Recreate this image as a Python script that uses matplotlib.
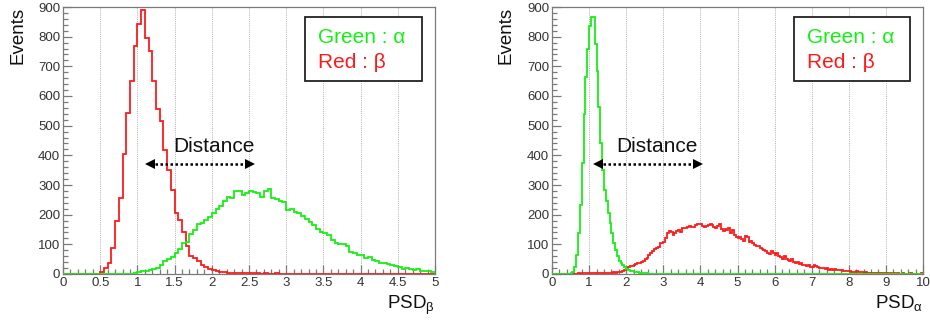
import numpy as np
import matplotlib
matplotlib.use("Agg")
import matplotlib.pyplot as plt
from matplotlib.ticker import MultipleLocator
from matplotlib.patches import Rectangle

plt.rcParams['font.family'] = ['Liberation Sans', 'DejaVu Sans']
plt.rcParams['mathtext.fontset'] = 'custom'
plt.rcParams['mathtext.rm'] = 'Liberation Sans'

# ---------------- data ----------------
# Left panel: PSD_beta, 0..5, bin width 0.05
left_range = (0.0, 5.0)
left_red_beta = [
    0, 0, 0, 0, 0, 0, 0, 0, 0, 0,
    8, 20, 36, 87, 178, 256, 403, 544, 650, 770,
    843, 890, 797, 753, 652, 556, 517, 418, 351, 283,
    207, 182, 140, 93, 62, 55, 44, 30, 22, 17,
    13, 9, 8, 7, 5, 4, 4, 3, 2, 2,
    3, 2, 2, 1, 2, 1, 1, 2, 1, 1,
    0, 1, 1, 0, 1, 0, 0, 1, 0, 0,
    0, 1, 0, 0, 0, 0, 1, 0, 0, 0,
    0, 0, 0, 0, 0, 0, 0, 0, 0, 0,
    0, 0, 0, 0, 0, 0, 0, 0, 0, 0,
]
left_green_alpha = [
    0, 0, 0, 0, 0, 0, 0, 0, 0, 0,
    0, 0, 0, 0, 0, 0, 0, 0, 1, 3,
    8, 10, 11, 13, 17, 21, 30, 45, 49, 56,
    70, 84, 106, 108, 135, 148, 167, 173, 182, 193,
    204, 218, 229, 247, 258, 255, 281, 280, 266, 274,
    281, 278, 272, 261, 281, 285, 255, 253, 247, 244,
    216, 218, 210, 204, 196, 184, 176, 165, 151, 143,
    137, 131, 115, 106, 101, 101, 96, 75, 72, 64,
    64, 53, 56, 47, 45, 38, 36, 33, 30, 27,
    22, 17, 19, 16, 13, 16, 11, 10, 11, 8,
]

# Right panel: PSD_alpha, 0..10, bin width 0.05
right_range = (0.0, 10.0)
right_green_alpha = [
    0, 0, 0, 0, 0, 0, 0, 0, 0, 0,
    2, 8, 25, 64, 137, 232, 373, 540, 665, 760,
    835, 866, 866, 776, 685, 563, 441, 351, 283, 245,
    204, 172, 137, 103, 81, 60, 45, 36, 29, 22,
    18, 13, 11, 9, 8, 6, 6, 5, 4, 3,
    3, 2, 1, 1, 0, 0, 0, 0, 0, 0,
] + [0] * 140
right_red_beta = [
    0, 0, 0, 0, 0, 0, 0, 0, 0, 0,
    0, 0, 1, 1, 2, 1, 2, 2, 3, 2,
    3, 3, 2, 3, 4, 3, 3, 4, 3, 4,
    5, 4, 5, 6, 5, 7, 8, 7, 10, 12,
    17, 22, 27, 26, 30, 33, 38, 36, 42, 45,
    49, 55, 64, 70, 79, 84, 87, 92, 103, 106,
    109, 122, 137, 146, 143, 133, 139, 146, 148, 142,
    154, 156, 154, 158, 162, 159, 157, 165, 169, 168,
    169, 162, 158, 163, 164, 170, 165, 160, 154, 162,
    168, 152, 146, 152, 148, 156, 137, 150, 131, 126,
    120, 126, 118, 112, 128, 124, 108, 110, 104, 99,
    93, 96, 87, 84, 80, 76, 72, 68, 76, 70,
    64, 72, 60, 56, 52, 62, 50, 46, 43, 52,
    40, 37, 40, 34, 37, 32, 31, 28, 29, 25,
    24, 31, 28, 22, 21, 19, 19, 17, 19, 15,
    17, 14, 18, 13, 15, 12, 13, 11, 11, 9,
    10, 7, 8, 6, 9, 7, 6, 8, 5, 6,
    4, 5, 3, 4, 3, 4, 2, 3, 2, 3,
    2, 1, 3, 1, 2, 1, 2, 1, 1, 2,
    1, 1, 0, 2, 1, 0, 1, 1, 0, 2,
]

legend_texts = ["Green : \u03b1", "Red : \u03b2"]
xlabels = ["PSD$_\\mathregular{\u03b2}$", "PSD$_\\mathregular{\u03b1}$"]
ylabel = "Events"
annot_text = "Distance"

GREEN = '#14f014'
RED = '#ff1a1a'
GRID = '#b0b0b0'
FRAME = '#7a7a7a'
TICKTXT = '#333333'

fig = plt.figure(figsize=(9.3, 3.24), dpi=100)
ax1 = fig.add_axes([63/930, 1-274/324, 372/930, 267/324])
ax2 = fig.add_axes([552/930, 1-274/324, 371/930, 267/324])


def style(ax, xr, major, minor, xlabel, ylab_x):
    ax.set_xlim(*xr)
    ax.set_ylim(0, 900)
    ax.xaxis.set_major_locator(MultipleLocator(major))
    ax.xaxis.set_minor_locator(MultipleLocator(minor))
    ax.yaxis.set_major_locator(MultipleLocator(100))
    ax.yaxis.set_minor_locator(MultipleLocator(20))
    ax.tick_params(which='both', direction='in', color=FRAME, top=False, right=False,
                   width=0.9)
    ax.tick_params(which='major', length=6.5, labelsize=9.5, labelcolor=TICKTXT, pad=2.5)
    ax.tick_params(which='minor', length=3.5)
    ax.tick_params(axis='y', pad=2)
    for s in ax.spines.values():
        s.set_color(FRAME)
        s.set_linewidth(0.9)
    ax.grid(axis='x', which='major', color=GRID, linestyle=(0, (1, 1.2)), linewidth=0.7)
    ax.set_axisbelow(True)
    ax.xaxis.set_major_formatter(matplotlib.ticker.FuncFormatter(lambda v, p: f"{v:g}"))
    ax.text(1.0, -0.131, xlabel, transform=ax.transAxes, ha='right', va='baseline',
            fontsize=13.5, color='#111111')
    ax.text(ylab_x, 1.0, ylabel, transform=ax.transAxes, rotation=90, ha='center',
            va='top', fontsize=13.5, color='#111111')
    # legend box
    ax.add_patch(Rectangle((0.651, 0.723), 0.314, 0.24, transform=ax.transAxes,
                           facecolor='white', edgecolor='#222222', linewidth=1.3, zorder=5))
    ax.text(0.686, 0.866, legend_texts[0], transform=ax.transAxes, color=GREEN,
            fontsize=15, va='baseline', ha='left', zorder=6)
    ax.text(0.686, 0.770, legend_texts[1], transform=ax.transAxes, color=RED,
            fontsize=15, va='baseline', ha='left', zorder=6)


def draw_hist(ax, vals, xr, color, z):
    edges = np.linspace(xr[0], xr[1], len(vals) + 1)
    ax.stairs(vals, edges, color=color, linewidth=1.3, baseline=0, zorder=z)


def distance(ax, x0, x1, y, tx, ty):
    ax.plot([x0, x1], [y, y], color='black', linestyle=(0, (1, 1)), linewidth=1.8, zorder=4)
    ax.plot([x0], [y], marker='<', markersize=7.5, color='black', zorder=4,
            markeredgewidth=0)
    ax.plot([x1], [y], marker='>', markersize=7.5, color='black', zorder=4,
            markeredgewidth=0)
    ax.text(tx, ty, annot_text, fontsize=15, ha='left', va='baseline', color='#111111')


# left panel
draw_hist(ax1, left_red_beta, left_range, RED, 3)
draw_hist(ax1, left_green_alpha, left_range, GREEN, 3.1)
style(ax1, left_range, 0.5, 0.1, xlabels[0], -0.122)
distance(ax1, 1.17, 2.51, 371, 1.48, 412)

# right panel
draw_hist(ax2, right_red_beta, right_range, RED, 3)
draw_hist(ax2, right_green_alpha, right_range, GREEN, 3.1)
style(ax2, right_range, 1, 0.2, xlabels[1], -0.125)
distance(ax2, 1.24, 3.93, 371, 1.74, 412)

fig.savefig('out.png', dpi=100)
